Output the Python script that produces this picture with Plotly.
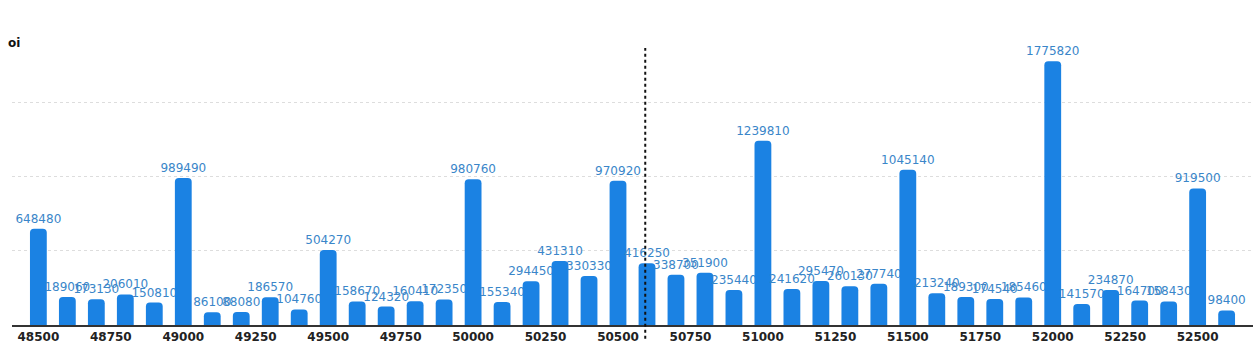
import plotly.graph_objects as go

strikes = [48500, 48600, 48700, 48800, 48900, 49000, 49100, 49200, 49300, 49400,
           49500, 49600, 49700, 49800, 49900, 50000, 50100, 50200, 50300, 50400,
           50500, 50600, 50700, 50800, 50900, 51000, 51100, 51200, 51300, 51400,
           51500, 51600, 51700, 51800, 51900, 52000, 52100, 52200, 52300, 52400,
           52500, 52600]
oi = [648480, 189060, 173130, 206010, 150810, 989490, 86100, 88080, 186570, 104760,
      504270, 158670, 124320, 160410, 172350, 980760, 155340, 294450, 431310, 330330,
      970920, 416250, 338700, 351900, 235440, 1239810, 241620, 295470, 260130, 277740,
      1045140, 213240, 189300, 174540, 185460, 1775820, 141570, 234870, 164700, 158430,
      919500, 98400]
tick_vals = list(range(48500, 52501, 250))
tick_text = [str(v) for v in tick_vals]
spot = 50594

fig = go.Figure()
fig.add_trace(go.Bar(
    x=strikes, y=oi, width=58,
    marker=dict(color="#1b82e3", cornerradius=4, line=dict(width=0)),
    text=[str(v) for v in oi], textposition="outside", constraintext="none",
    cliponaxis=False,
    textfont=dict(family="DejaVu Sans", size=12, color="#3a86c9"),
    hoverinfo="x+y",
))

fig.add_shape(type="line", xref="x", yref="paper", x0=spot, x1=spot, y0=-0.05, y1=1,
              line=dict(color="#111111", width=2, dash="dot"))

fig.add_annotation(text="<b>oi</b>", xref="paper", yref="paper", x=0, y=1,
                   xanchor="left", yanchor="middle", xshift=-6, yshift=5,
                   showarrow=False, font=dict(family="DejaVu Sans", size=12, color="#111111"))

fig.update_layout(
    width=1253, height=348,
    margin=dict(l=12, r=0, t=48, b=23),
    paper_bgcolor="white", plot_bgcolor="white",
    showlegend=False, bargap=0.4,
    font=dict(family="DejaVu Sans"),
)
fig.update_xaxes(range=[48409, 52691], tickvals=tick_vals, ticktext=tick_text,
                 tickfont=dict(family="DejaVu Sans", size=12, color="#222222", weight="bold"),
                 showgrid=False, showline=True, linecolor="#333333", linewidth=2,
                 ticks="", zeroline=False, ticklabelstandoff=0)
fig.update_yaxes(range=[0, 1864611], tickvals=[500000, 1000000, 1500000],
                 showticklabels=False, showgrid=True, gridcolor="#dddddd", griddash="dot",
                 gridwidth=1, zeroline=False, showline=False)

fig.write_html("out.html")
